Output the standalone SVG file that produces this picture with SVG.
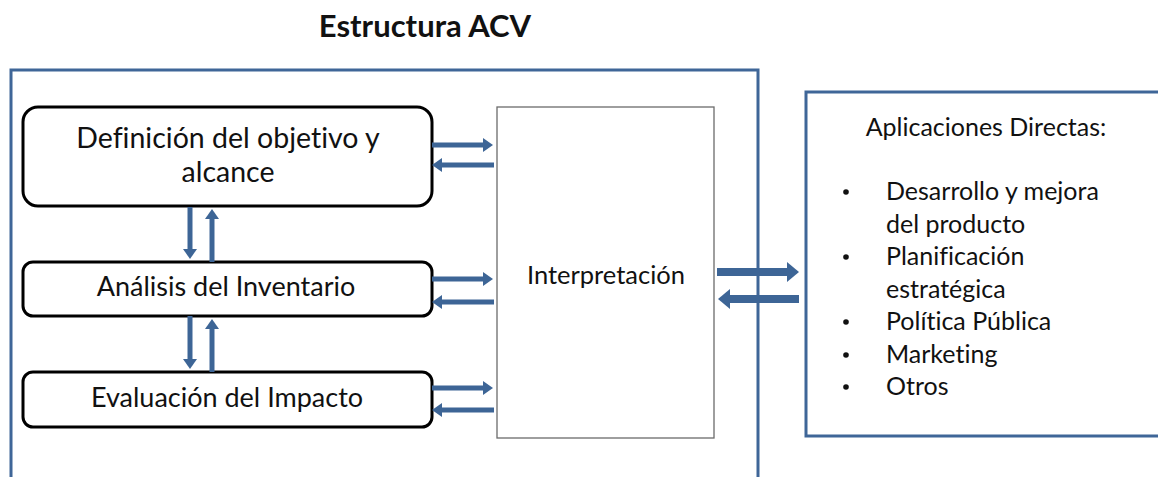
<svg xmlns="http://www.w3.org/2000/svg" width="1158" height="477" viewBox="0 0 1158 477">
  <style>
    .frame { fill: none; stroke: #3f6698; stroke-width: 3; }
    .step { fill: #ffffff; stroke: #000000; stroke-width: 3; }
    .interp { fill: #ffffff; stroke: #6b6b6b; stroke-width: 1.3; }
    .lbl { font-family: Lato, "Liberation Sans", sans-serif; fill: #111111; font-variant-ligatures: none; }
    .dot { fill: #111111; }
    .flow { fill: none; stroke: #3d6596; stroke-width: 5; }
    .flow-wide { fill: none; stroke: #3d6596; stroke-width: 8; }
  </style>
  <defs>
    <marker id="head" markerUnits="userSpaceOnUse" markerWidth="12" markerHeight="14" refX="2" refY="7" orient="auto">
      <path d="M0,0 L10,7 L0,14 Z" fill="#3d6596"/>
    </marker>
    <marker id="head-wide" markerUnits="userSpaceOnUse" markerWidth="14" markerHeight="20" refX="2" refY="10" orient="auto">
      <path d="M0,0 L12,10 L0,20 Z" fill="#3d6596"/>
    </marker>
  </defs>

  <rect width="1158" height="477" fill="#ffffff"/>

  <text class="lbl" x="425" y="37" text-anchor="middle" font-size="31" font-weight="bold">Estructura ACV</text>

  <!-- outer ACV frame, open at the bottom -->
  <g id="acv-frame">
    <path class="frame" d="M11,477 L11,70 L758,70 L758,477"/>
  </g>

  <g id="definicion">
    <rect class="step" x="23" y="107" width="409" height="99" rx="15"/>
    <text class="lbl" x="228" y="148" text-anchor="middle" font-size="28.5">Definición del objetivo y</text>
    <text class="lbl" x="228" y="182" text-anchor="middle" font-size="28.5">alcance</text>
  </g>

  <g id="inventario">
    <rect class="step" x="23" y="262" width="409" height="54" rx="10"/>
    <text class="lbl" x="226" y="296" text-anchor="middle" font-size="27">Análisis del Inventario</text>
  </g>

  <g id="impacto">
    <rect class="step" x="23" y="372" width="409" height="55" rx="10"/>
    <text class="lbl" x="227" y="407" text-anchor="middle" font-size="27">Evaluación del Impacto</text>
  </g>

  <g id="interpretacion">
    <rect class="interp" x="497" y="107" width="217" height="331"/>
    <text class="lbl" x="606" y="284" text-anchor="middle" font-size="25.5">Interpretación</text>
  </g>

  <g id="aplicaciones">
    <path class="frame" d="M1160,92 L806,92 L806,436 L1160,436"/>
    <text class="lbl" x="986" y="136" text-anchor="middle" font-size="25">Aplicaciones Directas:</text>
    <!-- bullet markers -->
    <circle class="dot" cx="846" cy="192" r="2.8"/>
    <circle class="dot" cx="846" cy="257" r="2.8"/>
    <circle class="dot" cx="846" cy="322" r="2.8"/>
    <circle class="dot" cx="846" cy="355" r="2.8"/>
    <circle class="dot" cx="846" cy="387" r="2.8"/>
    <g font-size="25">
      <text class="lbl" x="886" y="200">Desarrollo y mejora</text>
      <text class="lbl" x="886" y="233">del producto</text>
      <text class="lbl" x="886" y="265">Planificación</text>
      <text class="lbl" x="886" y="298">estratégica</text>
      <text class="lbl" x="886" y="330">Política Pública</text>
      <text class="lbl" x="886" y="363">Marketing</text>
      <text class="lbl" x="886" y="395">Otros</text>
    </g>
  </g>

  <g id="connectors">
    <!-- steps to interpretation and back -->
    <path class="flow" d="M432,145 L485,145" marker-end="url(#head)"/>
    <path class="flow" d="M494,165 L440,165" marker-end="url(#head)"/>
    <path class="flow" d="M432,279 L485,279" marker-end="url(#head)"/>
    <path class="flow" d="M494,302 L440,302" marker-end="url(#head)"/>
    <path class="flow" d="M432,388 L485,388" marker-end="url(#head)"/>
    <path class="flow" d="M494,410 L440,410" marker-end="url(#head)"/>
    <!-- between consecutive steps -->
    <path class="flow" d="M190,207 L190,251" marker-end="url(#head)"/>
    <path class="flow" d="M212,262 L212,217" marker-end="url(#head)"/>
    <path class="flow" d="M190,316 L190,361" marker-end="url(#head)"/>
    <path class="flow" d="M212,372 L212,327" marker-end="url(#head)"/>
    <!-- interpretation to direct applications -->
    <path class="flow-wide" d="M717,272 L789,272" marker-end="url(#head-wide)"/>
    <path class="flow-wide" d="M799,299 L728,299" marker-end="url(#head-wide)"/>
  </g>
</svg>
